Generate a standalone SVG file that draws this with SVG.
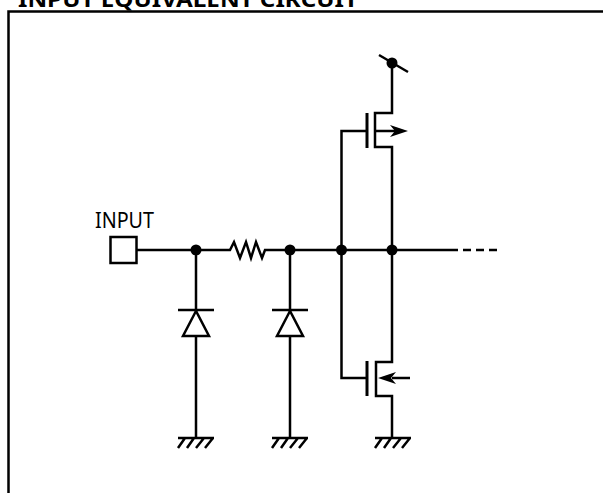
<svg xmlns="http://www.w3.org/2000/svg" width="603" height="493" viewBox="0 0 603 493">
<defs>
<style>
.w{fill:none;stroke:#000;stroke-width:2.500}
.d{fill:#000}
.t{font-family:"Noto Sans","DejaVu Sans",sans-serif;fill:#000}
</style>
<g id="gnd"><path class="w" d="M-18 0H18M-11 0L-18 10M-2 0L-9 10M8 0L0 10M17 0L9 10"/></g>
<g id="diode"><path class="w" d="M-18 0H18M0 1L-13 26H13Z"/></g>
</defs>
<rect width="603" height="493" fill="#fff"/>
<text id="title" class="t" x="18" y="7" font-size="21" font-weight="700" textLength="340" lengthAdjust="spacingAndGlyphs">INPUT EQUIVALENT CIRCUIT</text>
<path id="frame" class="w" d="M8.500 493V11.500H603"/>
<g id="connectors">
<path class="w" d="M136 250H230L234 242L240 258L246 242L251 258L256 242L262 258L265 250H392"/>
<path class="w" d="M392 250H458"/>
<path class="w" stroke-dasharray="8 5" d="M463 250H497"/>
<path class="w" d="M196 250V310M196 336V438M290 250V310M290 336V438"/>
<path class="w" d="M341.500 250V131H367M341.500 250V378H367"/>
<path class="w" d="M392 63V113H375V147H392V362H376V396H392V438"/>
<path class="w" d="M376 131H396M392 378H410"/>
</g>
<g id="input"><rect class="w" x="110.500" y="237" width="26" height="26"/><text class="t" x="95" y="228" font-size="21" textLength="59" lengthAdjust="spacingAndGlyphs">INPUT</text></g>
<g id="junction1"><circle class="d" cx="196" cy="250" r="5.500"/></g>
<g id="junction2"><circle class="d" cx="290" cy="250" r="5.500"/></g>
<g id="junction3"><circle class="d" cx="341.500" cy="250" r="5.500"/></g>
<g id="junction4"><circle class="d" cx="392" cy="250" r="5.500"/></g>
<g id="diode1"><use href="#diode" x="196" y="310"/></g>
<g id="diode2"><use href="#diode" x="290" y="310"/></g>
<g id="ground1"><use href="#gnd" x="196" y="438"/></g>
<g id="ground2"><use href="#gnd" x="290" y="438"/></g>
<g id="ground3"><use href="#gnd" x="393" y="438"/></g>
<g id="supply"><path class="w" d="M379 55L408 72"/><circle class="d" cx="392" cy="63" r="5.500"/></g>
<g id="pmos"><path class="w" style="stroke-width:3" d="M367 113V148"/><path class="d" d="M408 131L390 125L395 131L390 137Z"/></g>
<g id="nmos"><path class="w" style="stroke-width:3" d="M367 361V396"/><path class="d" d="M378 378L396 372L391 378L396 384Z"/></g>
</svg>
